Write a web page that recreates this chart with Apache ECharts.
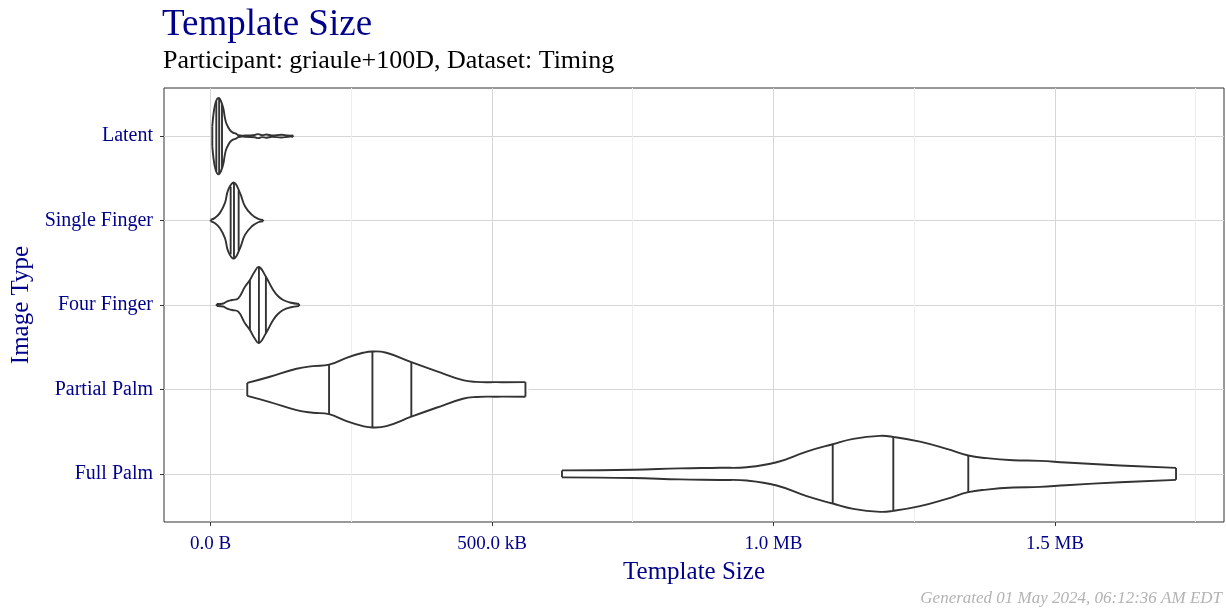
<!DOCTYPE html>
<html>
<head>
<meta charset="utf-8">
<script src="https://cdn.jsdelivr.net/npm/echarts@6/dist/echarts.min.js"></script>
<style>
  html, body { margin: 0; padding: 0; background: #fff; }
  #chart { width: 1226px; height: 611px; }
</style>
</head>
<body>
<div id="chart"></div>
<script>
// categories, top to bottom, and their positions on the y scale
const categories = ['Latent', 'Single Finger', 'Four Finger', 'Partial Palm', 'Full Palm'];
const yPositions = [5, 4, 3, 2, 1];

// x axis ticks (bytes)
const xTickValues = [0, 500000, 1000000, 1500000];
const xTickLabels = ['0.0 B', '500.0 kB', '1.0 MB', '1.5 MB'];
const xMinorValues = [250000, 750000, 1250000, 1750000];

// violin outlines: template size (bytes) and half width (in category units)
const latentX = [3200, 5300, 8000, 11500, 15100, 18600, 22700, 25700, 28700, 34600, 39900, 45200, 49600, 61200, 78900, 84800, 91300, 99600, 109000, 126200, 137400, 146800];
const latentW = [0.118, 0.26, 0.367, 0.438, 0.45, 0.414, 0.33, 0.213, 0.142, 0.071, 0.041, 0.03, 0.01, 0.007, 0.014, 0.024, 0.012, 0.019, 0.008, 0.017, 0.007, 0.007];
const latentQ = [10300, 15400, 20400];

const singleX = [400, 8000, 16800, 25700, 31600, 41700, 52300, 61200, 73000, 84800, 93600];
const singleW = [0.01, 0.032, 0.091, 0.209, 0.367, 0.45, 0.328, 0.169, 0.071, 0.02, 0.008];
const singleQ = [35800, 41700, 50000];

const fourX = [11000, 22700, 28700, 38100, 49300, 61200, 70000, 78000, 86000, 98400, 111300, 119700, 129100, 141000, 157400];
const fourW = [0.012, 0.018, 0.039, 0.059, 0.079, 0.217, 0.296, 0.39, 0.45, 0.335, 0.178, 0.107, 0.059, 0.03, 0.012];
const fourQ = [70000, 86000, 98400];

const partialX = [65300, 105500, 152800, 181700, 210600, 241500, 270900, 287600, 312400, 356700, 401100, 448200, 472000, 507500, 559400];
const partialW = [0.077, 0.15, 0.245, 0.276, 0.293, 0.375, 0.434, 0.45, 0.434, 0.323, 0.217, 0.11, 0.089, 0.086, 0.086];
const partialQ = [210600, 287600, 356700];

const fullX = [624300, 749700, 833900, 905000, 952400, 1005700, 1059000, 1105200, 1141700, 1189200, 1212800, 1260200, 1307700, 1346000, 1378700, 1425900, 1473400, 1519500, 1615500, 1715000];
const fullW = [0.041, 0.049, 0.065, 0.072, 0.079, 0.138, 0.264, 0.351, 0.414, 0.45, 0.438, 0.382, 0.296, 0.217, 0.186, 0.162, 0.154, 0.134, 0.1, 0.071];
const fullQ = [1105200, 1212800, 1346000];

const violins = [
  { x: latentX, w: latentW, q: latentQ },
  { x: singleX, w: singleW, q: singleQ },
  { x: fourX, w: fourW, q: fourQ },
  { x: partialX, w: partialW, q: partialQ },
  { x: fullX, w: fullW, q: fullQ }
];

const SMOOTH = 0.45;
const BLUE = '#00008B';
const FONT = "'Liberation Serif', 'DejaVu Serif', serif";

function widthAt(xs, ws, x) {
  for (let k = 1; k < xs.length; k++) {
    if (x <= xs[k]) {
      const t = (x - xs[k - 1]) / (xs[k] - xs[k - 1]);
      return ws[k - 1] + t * (ws[k] - ws[k - 1]);
    }
  }
  return ws[ws.length - 1];
}

function renderViolin(params, api) {
  const v = violins[params.dataIndex];
  const pos = yPositions[params.dataIndex];
  const top = v.x.map((x, k) => api.coord([x, pos + v.w[k]]));
  const bot = v.x.map((x, k) => api.coord([x, pos - v.w[k]]));
  const stroke = { stroke: '#333333', lineWidth: 1.9, fill: null };
  const last = top.length - 1;
  const children = [
    { type: 'polygon', shape: { points: top.concat(bot.slice().reverse()), smooth: SMOOTH }, style: { fill: '#ffffff' } },
    { type: 'polyline', shape: { points: top, smooth: SMOOTH }, style: stroke },
    { type: 'polyline', shape: { points: bot, smooth: SMOOTH }, style: stroke },
    { type: 'line', shape: { x1: top[0][0], y1: top[0][1], x2: bot[0][0], y2: bot[0][1] }, style: stroke },
    { type: 'line', shape: { x1: top[last][0], y1: top[last][1], x2: bot[last][0], y2: bot[last][1] }, style: stroke }
  ];
  v.q.forEach(q => {
    const hw = widthAt(v.x, v.w, q);
    const a = api.coord([q, pos + hw]);
    const b = api.coord([q, pos - hw]);
    children.push({ type: 'line', shape: { x1: a[0], y1: a[1], x2: b[0], y2: b[1] }, style: stroke });
  });
  return { type: 'group', children };
}

const chart = echarts.init(document.getElementById('chart'), null, { renderer: 'canvas' });

const option = {
  backgroundColor: '#ffffff',
  animation: false,
  title: [
    {
      text: 'Template Size', left: 162, top: 7, padding: 0,
      textStyle: { fontFamily: FONT, fontSize: 37, fontWeight: 'normal', color: BLUE }
    },
    {
      text: 'Participant: griaule+100D, Dataset: Timing', left: 163, top: 48, padding: 0,
      textStyle: { fontFamily: FONT, fontSize: 26, fontWeight: 'normal', color: '#000000' }
    },
    {
      text: 'Generated 01 May 2024, 06:12:36 AM EDT', right: 4, bottom: 4, padding: 0,
      textStyle: { fontFamily: FONT, fontSize: 17, fontWeight: 'normal', fontStyle: 'italic', color: '#b3b3b3' }
    }
  ],
  grid: {
    left: 164, right: 2, top: 88, bottom: 89,
    show: true, borderColor: '#333333', borderWidth: 1, backgroundColor: 'transparent'
  },
  xAxis: [
    {
      type: 'value', min: -82600, max: 1800200, position: 'bottom',
      name: 'Template Size', nameLocation: 'middle', nameGap: 38,
      nameTextStyle: { fontFamily: FONT, fontSize: 25, color: BLUE },
      axisLine: { show: false, onZero: false },
      axisTick: { show: true, length: 4, customValues: xTickValues, lineStyle: { color: '#333333' } },
      axisLabel: {
        customValues: xTickValues, margin: 13,
        fontFamily: FONT, fontSize: 19, color: BLUE,
        formatter: v => xTickLabels[xTickValues.indexOf(v)] || ''
      },
      splitLine: { show: true, lineStyle: { color: '#d6d6d6', width: 1 } }
    },
    {
      type: 'value', min: -82600, max: 1800200, position: 'top',
      axisLine: { show: false, onZero: false },
      axisTick: { show: false, customValues: xMinorValues },
      axisLabel: { show: false, customValues: xMinorValues },
      splitLine: { show: true, lineStyle: { color: '#ededed', width: 1 } }
    }
  ],
  yAxis: {
    type: 'value', min: 0.43, max: 5.57, position: 'left',
    name: 'Image Type', nameLocation: 'middle', nameGap: 128,
    nameTextStyle: { fontFamily: FONT, fontSize: 25, color: BLUE },
    axisLine: { show: false, onZero: false },
    axisTick: { show: true, length: 4, customValues: yPositions, lineStyle: { color: '#333333' } },
    axisLabel: {
      customValues: yPositions, margin: 11,
      fontFamily: FONT, fontSize: 20, color: BLUE,
      formatter: v => categories[yPositions.indexOf(v)] || ''
    },
    splitLine: { show: true, lineStyle: { color: '#d6d6d6', width: 1 } }
  },
  series: [
    {
      type: 'custom',
      renderItem: renderViolin,
      data: violins.map((v, i) => [v.x[0], yPositions[i]]),
      encode: { x: 0, y: 1 },
      z: 5
    }
  ]
};

chart.setOption(option);
</script>
</body>
</html>
